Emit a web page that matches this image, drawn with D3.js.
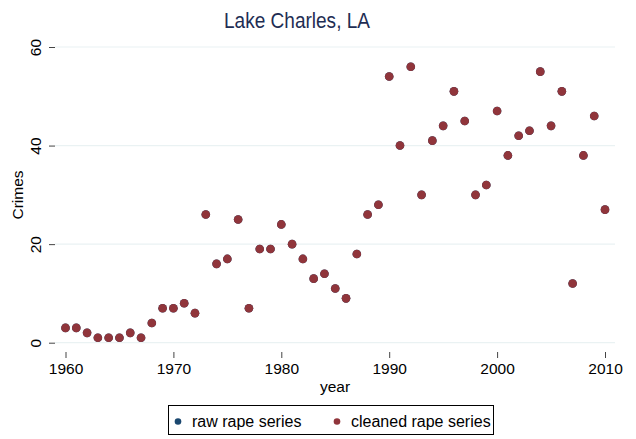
<!DOCTYPE html>
<html><head><meta charset="utf-8">
<script src="https://cdn.jsdelivr.net/npm/d3@7"></script>
<style>body{margin:0;background:#fff}svg{display:block}text{font-family:"Liberation Sans",Arial,Helvetica,sans-serif}</style>
</head><body><svg id="c" width="636" height="439"></svg>
<script>
const years = d3.range(1960, 2011);
const cleaned = [3,3,2,1,1,1,2,1,4,7,7,8,6,26,16,17,25,7,19,19,24,20,17,13,14,11,9,18,26,28,54,40,56,30,41,44,51,45,30,32,47,38,42,43,55,44,51,12,38,46,27];
const raw = cleaned.slice();
const xTicks = [1960,1970,1980,1990,2000,2010];
const yTicks = [0,20,40,60];
const seriesNames = ["raw rape series","cleaned rape series"];
const colors = ["rgb(26,71,111)","rgb(144,53,59)"];

const svg = d3.select("#c");
const x = d3.scaleLinear().domain([1960,2010]).range([65.5,605]);
const y = d3.scaleLinear().domain([0,60]).range([342.7,47]);
const plotL = 55, plotR = 615;

// gridlines
svg.append("g").selectAll("line").data(yTicks).join("line")
  .attr("x1",plotL).attr("x2",plotR).attr("y1",d=>y(d)).attr("y2",d=>y(d))
  .attr("stroke","rgb(234,242,243)").attr("stroke-width",1.2);

// y axis
const yAx = svg.append("g").attr("transform",`translate(${plotL},0)`)
  .call(d3.axisLeft(y).tickValues(yTicks).tickSize(6).tickPadding(0).tickFormat(d3.format("d")));
yAx.select(".domain").remove();
yAx.selectAll(".tick line").attr("stroke","#444").attr("stroke-width",1);
yAx.selectAll(".tick text").attr("font-size",15.5).attr("fill","#000")
  .attr("text-anchor","middle").attr("x",0).attr("dy",0)
  .attr("transform","translate(-9,0) rotate(-90)").attr("y",-5);

// x axis
const xAx = svg.append("g").attr("transform",`translate(0,352)`)
  .call(d3.axisBottom(x).tickValues(xTicks).tickSize(6).tickPadding(5).tickFormat(d3.format("d")));
xAx.select(".domain").remove();
xAx.selectAll(".tick line").attr("stroke","#444");
xAx.selectAll(".tick text").attr("font-size",15.5).attr("fill","#000");

// axis titles
svg.append("text").attr("x",335).attr("y",392).attr("text-anchor","middle").attr("font-size",15.5).text("year");
svg.append("text").attr("transform","translate(23,195) rotate(-90)").attr("text-anchor","middle").attr("font-size",15.5).text("Crimes");

// title
svg.append("text").attr("x",224).attr("y",28).attr("font-size",22)
  .attr("textLength",146).attr("lengthAdjust","spacingAndGlyphs")
  .attr("fill","rgb(30,45,83)").text("Lake Charles, LA");

// points (raw drawn first, cleaned on top)
svg.append("g").selectAll("circle").data(years.map((yr,i)=>({yr,v:raw[i]}))).join("circle")
  .attr("cx",d=>x(d.yr)).attr("cy",d=>y(d.v)).attr("r",4.3).attr("fill",colors[0]);
svg.append("g").selectAll("circle").data(years.map((yr,i)=>({yr,v:cleaned[i]}))).join("circle")
  .attr("cx",d=>x(d.yr)).attr("cy",d=>y(d.v)).attr("r",4.3).attr("fill",colors[1]);

// legend
const lg = svg.append("g");
lg.append("rect").attr("x",168.5).attr("y",405.5).attr("width",325).attr("height",29).attr("fill","#fff").attr("stroke","#000").attr("stroke-width",1);
const lx = [178,337];
seriesNames.forEach((n,i)=>{
  lg.append("circle").attr("cx",lx[i]).attr("cy",421.5).attr("r",3.3).attr("fill",colors[i]);
  lg.append("text").attr("x",lx[i]+14).attr("y",427).attr("font-size",16).text(n);
});
</script></body></html>
